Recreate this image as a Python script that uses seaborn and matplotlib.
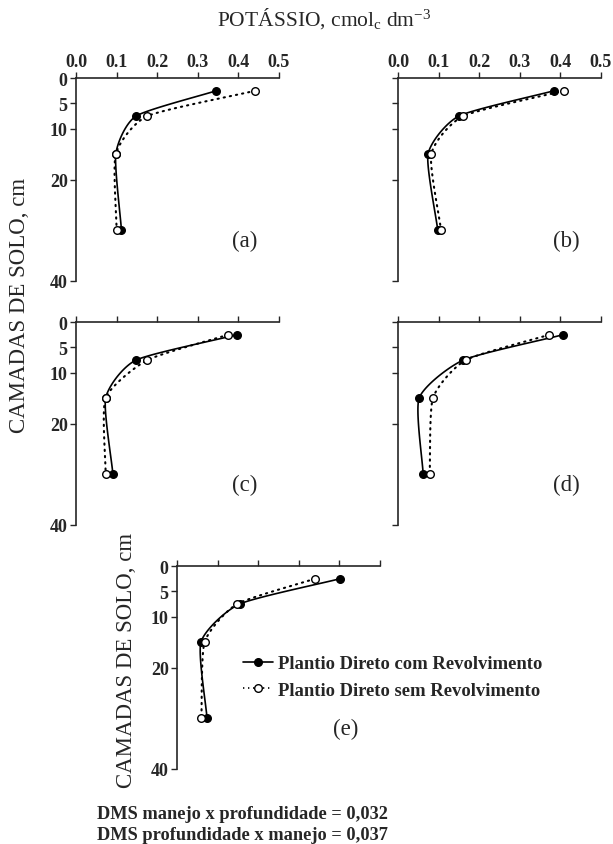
import numpy as np
import pandas as pd
import seaborn as sns
import matplotlib.pyplot as plt
from matplotlib.lines import Line2D

sns.set_style('ticks')
plt.rcParams['font.family'] = ['Liberation Serif', 'DejaVu Serif']
plt.rcParams['mathtext.fontset'] = 'custom'
plt.rcParams['mathtext.rm'] = 'Liberation Serif'
plt.rcParams['mathtext.it'] = 'Liberation Serif:italic'

# depth of soil layers (cm) and K values per panel
depth = [2.5, 7.5, 15, 30]
k_com = {
    'a': [0.346, 0.148, 0.098, 0.112],
    'b': [0.385, 0.150, 0.074, 0.098],
    'c': [0.397, 0.148, 0.073, 0.091],
    'd': [0.407, 0.161, 0.052, 0.062],
    'e': [0.402, 0.154, 0.059, 0.074],
}
k_sem = {
    'a': [0.442, 0.176, 0.098, 0.100],
    'b': [0.409, 0.161, 0.082, 0.106],
    'c': [0.375, 0.176, 0.073, 0.073],
    'd': [0.373, 0.167, 0.086, 0.078],
    'e': [0.340, 0.148, 0.068, 0.060],
}
xticks = [0.0, 0.1, 0.2, 0.3, 0.4, 0.5]
yticks = [0, 5, 10, 20, 40]


def smooth(xs, ys, n=40, tension=0.4):
    # cardinal spline through the points, in axis-normalised units
    p = np.column_stack([np.asarray(xs) / 0.5, np.asarray(ys) / 40.0])
    m = np.zeros_like(p)
    m[1:-1] = (1 - tension) / 2 * (p[2:] - p[:-2])
    m[0] = (1 - tension) * (p[1] - p[0])
    m[-1] = (1 - tension) * (p[-1] - p[-2])
    t = np.linspace(0, 1, n)[:, None]
    h00 = 2 * t**3 - 3 * t**2 + 1
    h10 = t**3 - 2 * t**2 + t
    h01 = -2 * t**3 + 3 * t**2
    h11 = t**3 - t**2
    out = [h00 * p[i] + h10 * m[i] + h01 * p[i + 1] + h11 * m[i + 1]
           for i in range(len(p) - 1)]
    c = np.vstack(out)
    return c[:, 0] * 0.5, c[:, 1] * 40.0


fig = plt.figure(figsize=(6.13, 8.45), dpi=100)
W, H = 613.0, 845.0
boxes = {
    'a': (76, 79), 'b': (398, 79),
    'c': (76, 323), 'd': (398, 323),
    'e': (177, 567),
}
for key, (px, py) in boxes.items():
    ax = fig.add_axes([px / W, 1 - (py + 203) / H, 203 / W, 203 / H])
    xs, ys = smooth(k_com[key], depth)
    ax.plot(xs, ys, color='black', lw=1.2, solid_capstyle='butt')
    xs, ys = smooth(k_sem[key], depth)
    ax.plot(xs, ys, color='black', lw=1.5, linestyle=(0, (0.6, 2.4)),
            dash_capstyle='round')
    df1 = pd.DataFrame({'k': k_com[key], 'depth': depth})
    df2 = pd.DataFrame({'k': k_sem[key], 'depth': depth})
    sns.scatterplot(data=df1, x='k', y='depth', ax=ax, color='black',
                    edgecolor='black', s=30, linewidth=1.0, zorder=3)
    sns.scatterplot(data=df2, x='k', y='depth', ax=ax, color='white',
                    edgecolor='black', s=30, linewidth=1.0, zorder=4)
    ax.set_xlim(0, 0.5)
    ax.set_ylim(40, 0)
    ax.set_xlabel('')
    ax.set_ylabel('')
    ax.xaxis.set_ticks_position('top')
    ax.set_xticks(xticks)
    ax.set_yticks(yticks)
    ax.spines['bottom'].set_visible(False)
    ax.spines['right'].set_visible(False)
    for s in ('top', 'left'):
        ax.spines[s].set_linewidth(1.2)
    ax.tick_params(direction='out', length=4, width=1.0, labelsize=13, pad=2)
    if key in ('a', 'b'):
        ax.set_xticklabels(['%.1f' % v for v in xticks], fontweight='bold')
    else:
        ax.set_xticklabels([])
    if key in ('b', 'd'):
        ax.set_yticklabels([])
    else:
        ax.set_yticklabels([str(v) for v in yticks], fontweight='bold')
    ax.text(0.415, 32, '(%s)' % key, fontsize=16.5, ha='center', va='center')

fig.text(0.528, 0.978, r'POTÁSSIO, cmol$_{\mathrm{c}}$ dm$^{-3}$',
         fontsize=15.5, ha='center', va='center')
fig.text(0.032, 0.639, 'CAMADAS DE SOLO, cm', fontsize=16.5,
         rotation=90, ha='center', va='center')
fig.text(0.207, 0.219, 'CAMADAS DE SOLO, cm', fontsize=16.5,
         rotation=90, ha='center', va='center')

handles = [
    Line2D([], [], color='black', lw=1.2, marker='o', markersize=5.5,
           markerfacecolor='black', markeredgecolor='black'),
    Line2D([], [], color='black', lw=1.2, linestyle=(0, (0.8, 2.2)),
           marker='o', markersize=5.5, markerfacecolor='white',
           markeredgecolor='black'),
]
fig.legend(handles, ['Plantio Direto com Revolvimento',
                     'Plantio Direto sem Revolvimento'],
           loc='center left', bbox_to_anchor=(226 / W, 1 - 678 / H),
           frameon=False, handlelength=1.6, handletextpad=0.3,
           labelspacing=0.5, prop={'weight': 'bold', 'size': 13.4})

fig.text(97 / W, 1 - 815 / H, 'DMS manejo x profundidade = 0,032',
         fontsize=13.2, fontweight='bold', ha='left', va='center')
fig.text(97 / W, 1 - 836 / H, 'DMS profundidade x manejo = 0,037',
         fontsize=13.2, fontweight='bold', ha='left', va='center')

fig.savefig('out.png', dpi=100)
